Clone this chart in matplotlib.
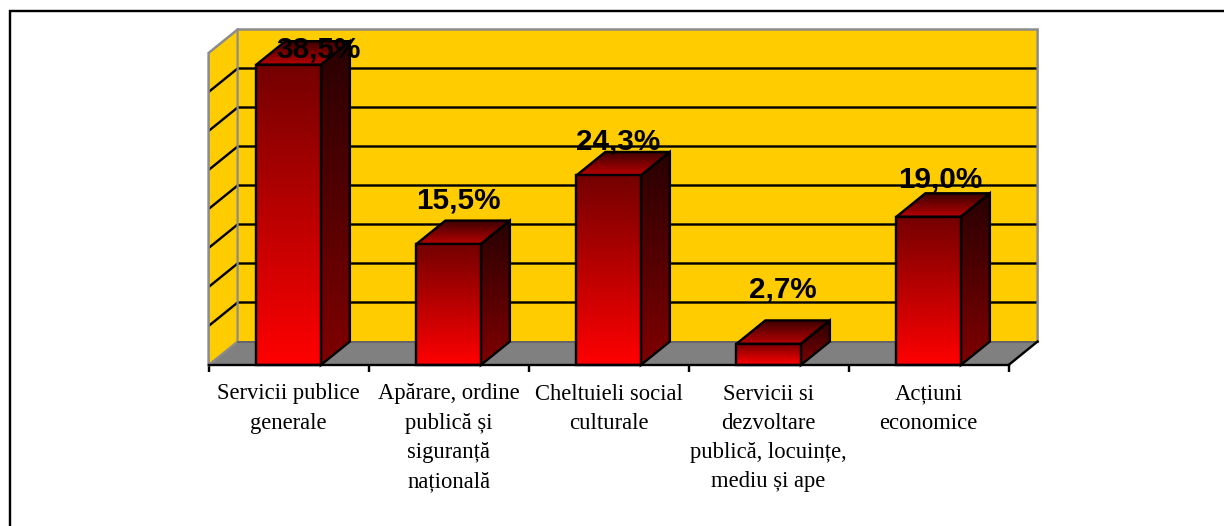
import numpy as np
import matplotlib
matplotlib.use("Agg")
import matplotlib.pyplot as plt
from matplotlib.colors import to_rgb
from matplotlib.lines import Line2D
from matplotlib.patches import Polygon

categories = ["Servicii publice\ngenerale",
              "Apărare, ordine\npublică și\nsiguranță\nnațională",
              "Cheltuieli social\nculturale",
              "Servicii si\ndezvoltare\npublică, locuințe,\nmediu și ape",
              "Acțiuni\neconomice"]
values = [38.5, 15.5, 24.3, 2.7, 19.0]
value_labels = ["38,5%", "15,5%", "24,3%", "2,7%", "19,0%"]
grid_values = [5, 10, 15, 20, 25, 30, 35]
y_max = 40

W, H = 1224, 526
L, R, B, T = 208.6, 1008.6, 365, 53
PX_X = (R - L) / len(values)      # pixels per category
PX_Y = (B - T) / y_max            # pixels per unit
DX = 29 / PX_X                    # depth offset, data units
DY = 23.5 / PX_Y
BAR_W = 64.5 / PX_X
X0, X1 = -0.5, len(values) - 0.5

# label offsets from bar top centre, in pixels
label_off = [(30, 15.5), (10, 44), (10, 33.5), (14, 54), (12, 37.5)]

fig = plt.figure(figsize=(W / 100, H / 100), dpi=100, facecolor="white")
ax = fig.add_axes([L / W, 1 - B / H, (R - L) / W, (B - T) / H])
ax.set_xlim(X0, X1)
ax.set_ylim(0, y_max)
ax.set_autoscale_on(False)
ax.patch.set_visible(False)
for s in ("top", "left", "right"):
    ax.spines[s].set_visible(False)
ax.spines["bottom"].set_linewidth(1.7)
ax.spines["bottom"].set_zorder(6)

PT = 0.72  # one pixel in points
YEL, GREY = "#FFCC00", "#808080"
EDGE = 2.4 * PT

def poly(pts, fc, ec="none", lw=0.0, z=1):
    p = Polygon(pts, closed=True, fc=fc, ec=ec, lw=lw, zorder=z, clip_on=False, joinstyle="miter")
    ax.add_patch(p)
    return p

def grad_poly(pts, top, bottom, z):
    pts = np.array(pts)
    a, b = np.array(to_rgb(top)), np.array(to_rgb(bottom))
    t = np.linspace(0, 1, 128)[:, None, None]
    arr = (b[None, None, :] * (1 - t) + a[None, None, :] * t)
    im = ax.imshow(arr, origin="lower", aspect="auto", interpolation="bilinear", zorder=z,
                   extent=(pts[:, 0].min(), pts[:, 0].max(), pts[:, 1].min(), pts[:, 1].max()))
    edge = poly(pts, "none", "black", EDGE, z + 0.1)
    im.set_clip_box(fig.bbox)
    im.set_clip_path(edge)

# walls and floor
poly([(X0 + DX, DY), (X1 + DX, DY), (X1 + DX, y_max + DY), (X0 + DX, y_max + DY)], YEL, z=1)
poly([(X0, 0), (X0 + DX, DY), (X0 + DX, y_max + DY), (X0, y_max)], YEL, z=1)
poly([(X0, 0), (X1, 0), (X1 + DX, DY), (X0 + DX, DY)], GREY, z=1)

# grid lines on both walls
for g in grid_values:
    ax.plot([X0, X0 + DX, X1 + DX], [g, g + DY, g + DY],
            color="black", lw=EDGE, zorder=2, clip_on=False, solid_capstyle="butt")

# grey wall outline and dark floor edge
ax.plot([X0, X0, X0 + DX, X1 + DX, X1 + DX],
        [0, y_max, y_max + DY, y_max + DY, DY],
        color="#8c8c8c", lw=2.5 * PT, zorder=3, clip_on=False, solid_joinstyle="miter")
ax.plot([X0, X0 + DX, X0 + DX], [0, DY, y_max + DY], color="#8c8c8c", lw=2.2 * PT, zorder=3, clip_on=False)
ax.plot([X0 + DX, X1 + DX], [DY, DY], color="#666666", lw=2 * PT, zorder=3, clip_on=False)
ax.plot([X1, X1 + DX], [0, DY], color="black", lw=EDGE, zorder=3, clip_on=False)

# bars
for i, v in enumerate(values):
    l, r = i - BAR_W / 2, i + BAR_W / 2
    grad_poly([(r, 0), (r + DX, DY), (r + DX, v + DY), (r, v)], "#280000", "#800000", 4)
    grad_poly([(l, v), (r, v), (r + DX, v + DY), (l + DX, v + DY)], "#3c0000", "#b80000", 4)
    grad_poly([(l, 0), (r, 0), (r, v), (l, v)], "#740000", "#ff0000", 4.5)
    ax.annotate(value_labels[i], (i, v), xytext=(label_off[i][0] * PT, label_off[i][1] * PT),
                textcoords="offset points", ha="center", va="center", zorder=8,
                family="Liberation Sans", fontweight="bold", fontsize=21.3, color="black",
                annotation_clip=False)

# axes ticks
ax.set_yticks([])
ax.set_xticks(np.arange(X0, X1 + 0.5, 1))
ax.set_xticklabels([])
ax.set_xticks(np.arange(len(values)), minor=True)
ax.set_xticklabels(categories, minor=True, family="Liberation Serif", fontsize=16.3,
                   linespacing=1.52, ma="center", va="top")
ax.tick_params(axis="x", which="major", length=7 * PT, width=EDGE, color="black", direction="out")
ax.tick_params(axis="x", which="minor", length=0, pad=18.5 * PT)

# outer frame: left and top only
fig.add_artist(Line2D([10 / W, 10 / W, 1], [0, 1 - 10.5 / H, 1 - 10.5 / H],
                      color="black", lw=2.4 * PT, solid_joinstyle="miter"))

fig.savefig("out.png", dpi=100, facecolor="white")
